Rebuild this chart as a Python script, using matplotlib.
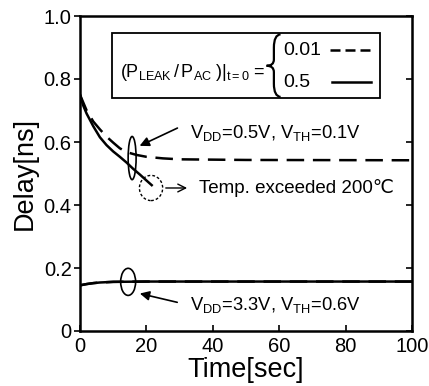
import numpy as np
import matplotlib
matplotlib.use("Agg")
import matplotlib.pyplot as plt
from matplotlib.patches import Ellipse, PathPatch
from matplotlib.path import Path

plt.rcParams["font.family"] = ["Liberation Sans", "DejaVu Sans"]
plt.rcParams["mathtext.fontset"] = "custom"
plt.rcParams["mathtext.rm"] = "Liberation Sans"
plt.rcParams["mathtext.it"] = "Liberation Sans"

# VDD=0.5V, VTH=0.1V
t_low_dash = [0, 2, 4, 6, 8, 10, 12, 14, 17, 20, 25, 30, 50, 100]
d_low_dash = [0.75, 0.70, 0.665, 0.64, 0.617, 0.598, 0.58, 0.568, 0.559, 0.553, 0.548, 0.545, 0.543, 0.542]
t_low_solid = [0, 1, 2, 4, 6, 8, 10, 12, 14, 16, 18, 20, 21.6]
d_low_solid = [0.75, 0.715, 0.69, 0.65, 0.615, 0.59, 0.57, 0.553, 0.535, 0.515, 0.497, 0.478, 0.463]

# VDD=3.3V, VTH=0.6V
t_high = [0, 2, 4, 6, 10, 20, 100]
d_high = [0.145, 0.149, 0.152, 0.154, 0.156, 0.157, 0.157]

xticks = [0, 20, 40, 60, 80, 100]
yticks = [0, 0.2, 0.4, 0.6, 0.8, 1.0]
ytick_labels = ["0", "0.2", "0.4", "0.6", "0.8", "1.0"]

fig = plt.figure(figsize=(4.29, 3.86), dpi=100)
ax = fig.add_axes([80 / 429, 1 - 331 / 386, 332 / 429, 315 / 386])

lw = 1.8
ax.plot(t_low_dash, d_low_dash, color="black", lw=lw, dashes=(7, 3.5))
ax.plot(t_low_solid, d_low_solid, color="black", lw=lw)
ax.plot(t_high, d_high, color="black", lw=lw, dashes=(7, 3.5))
ax.plot(t_high, d_high, color="black", lw=lw)

ax.set_xlim(0, 100)
ax.set_ylim(0, 1.0)
ax.set_xticks(xticks)
ax.set_yticks(yticks)
ax.set_yticklabels(ytick_labels)
ax.tick_params(axis="both", labelsize=14.5, width=1.2, length=4)
ax.tick_params(axis="y", direction="out", pad=2)
ax.tick_params(axis="x", direction="in", pad=4)
for s in ax.spines.values():
    s.set_linewidth(1.8)
# right ticks inward
ax2 = ax.secondary_yaxis("right")
ax2.set_yticks(yticks)
ax2.tick_params(direction="in", length=4, width=1.2, labelright=False)

ax.set_xlabel("Time[sec]", fontsize=19.5, labelpad=1)
ax.set_ylabel("Delay[ns]", fontsize=19.5, labelpad=4)

# legend box
ax.add_patch(plt.Rectangle((9.6, 0.74), 80.8, 0.206, fill=False, lw=1.3, color="black"))
ax.text(12, 0.822, r"$\mathrm{(P_{LEAK}\,/\,P_{AC}\;)|_{t=0}}$ =", fontsize=13, va="center", ha="left")
ax.text(61.1, 0.892, "0.01", fontsize=14, va="center")
ax.text(61.1, 0.79, "0.5", fontsize=14, va="center")
ax.plot([75.3, 87.3], [0.892, 0.892], color="black", lw=1.8, dashes=(4, 2))
ax.plot([75.8, 87.6], [0.79, 0.79], color="black", lw=1.8)
brace = Path(
    [(60.4, 0.942), (58.4, 0.94), (58.4, 0.90), (58.4, 0.862),
     (58.4, 0.842), (56.2, 0.842), (58.4, 0.842), (58.4, 0.822),
     (58.4, 0.785), (58.4, 0.745), (60.4, 0.743)],
    [Path.MOVETO, Path.CURVE3, Path.CURVE3, Path.LINETO,
     Path.CURVE3, Path.CURVE3, Path.CURVE3, Path.CURVE3,
     Path.LINETO, Path.CURVE3, Path.CURVE3])
ax.add_patch(PathPatch(brace, fill=False, lw=1.6, color="black"))

# annotations
ax.add_patch(Ellipse((15.7, 0.549), 2.4, 0.137, fill=False, lw=1.2, color="black"))
ax.annotate("", xy=(17.2, 0.584), xytext=(30.1, 0.648),
            arrowprops=dict(arrowstyle="-|>", color="black", lw=1.2, mutation_scale=14))
ax.text(33.1, 0.613, r"$\mathrm{V_{DD}}$=0.5V, $\mathrm{V_{TH}}$=0.1V", fontsize=13.2, va="baseline")

ax.add_patch(Ellipse((21.4, 0.454), 7, 0.08, fill=False, lw=1.0, ls=(0, (2, 1.5)), color="black"))
ax.annotate("", xy=(33.1, 0.454), xytext=(25.0, 0.454),
            arrowprops=dict(arrowstyle="->", color="black", lw=1.0, mutation_scale=14))
ax.text(35.7, 0.454, "Temp. exceeded 200\u2103", fontsize=13.5, va="center")

ax.add_patch(Ellipse((14.5, 0.156), 4.5, 0.086, fill=False, lw=1.2, color="black"))
ax.annotate("", xy=(17.2, 0.121), xytext=(30.1, 0.089),
            arrowprops=dict(arrowstyle="-|>", color="black", lw=1.2, mutation_scale=14))
ax.text(33.1, 0.067, r"$\mathrm{V_{DD}}$=3.3V, $\mathrm{V_{TH}}$=0.6V", fontsize=13.2, va="baseline")

fig.savefig("out.png", dpi=100)
